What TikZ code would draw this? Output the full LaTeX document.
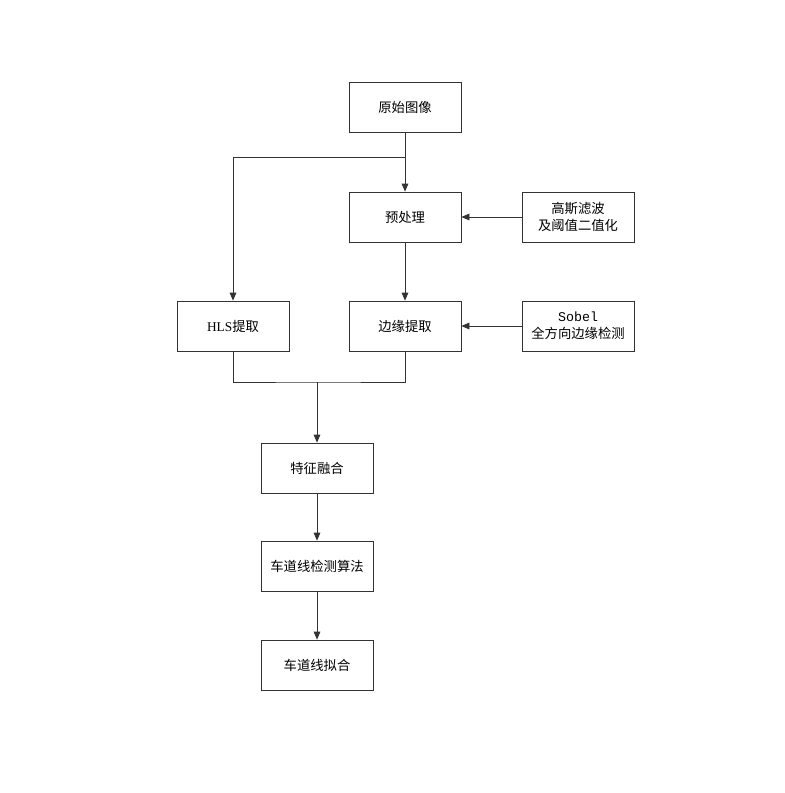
\documentclass[tikz,border=0pt]{standalone}
\usepackage{fontspec}
\newfontfamily\cjk{Noto Sans CJK SC}
\newfontfamily\monof{Liberation Mono}
\newfontfamily\seriff{Liberation Serif}
\usetikzlibrary{arrows.meta}
\begin{document}
\begin{tikzpicture}[x=0.75pt,y=-0.75pt,
  box/.style={draw=black!80,line width=0.6pt,minimum width=84pt,minimum height=37.5pt,inner sep=0pt,align=center,font=\cjk\fontsize{10}{13}\selectfont},
  conn/.style={draw=black!80,line width=0.6pt},
  arr/.style={conn,-{Triangle[length=6pt,width=5pt]}}]
\useasboundingbox (0,0) rectangle (785,793);
\node[box] (orig) at (405,107) {原始图像};
\node[box] (pre) at (405,217) {预处理};
\node[box] (gauss) at (578,217) {高斯滤波\\及阈值二值化};
\node[box] (hls) at (233,326) {{\seriff HLS}提取};
\node[box] (edge) at (405,326) {边缘提取};
\node[box] (sobel) at (578,326) {{\monof Sobel}\\全方向边缘检测};
\node[box] (fuse) at (317,468) {特征融合};
\node[box] (det) at (317,566) {车道线检测算法};
\node[box] (fit) at (317,665) {车道线拟合};
\coordinate (b1) at (405,157);
\coordinate (b2) at (317,382);
\draw[arr] (orig.south) -- (pre.north);
\draw[arr] (b1) -| (hls.north);
\draw[arr] (pre.south) -- (edge.north);
\draw[arr] (gauss.west) -- (pre.east);
\draw[arr] (sobel.west) -- (edge.east);
\draw[conn] (hls.south) |- (b2) -| (edge.south);
\draw[arr] (b2) -- (fuse.north);
\draw[arr] (fuse.south) -- (det.north);
\draw[arr] (det.south) -- (fit.north);
\end{tikzpicture}
\end{document}
